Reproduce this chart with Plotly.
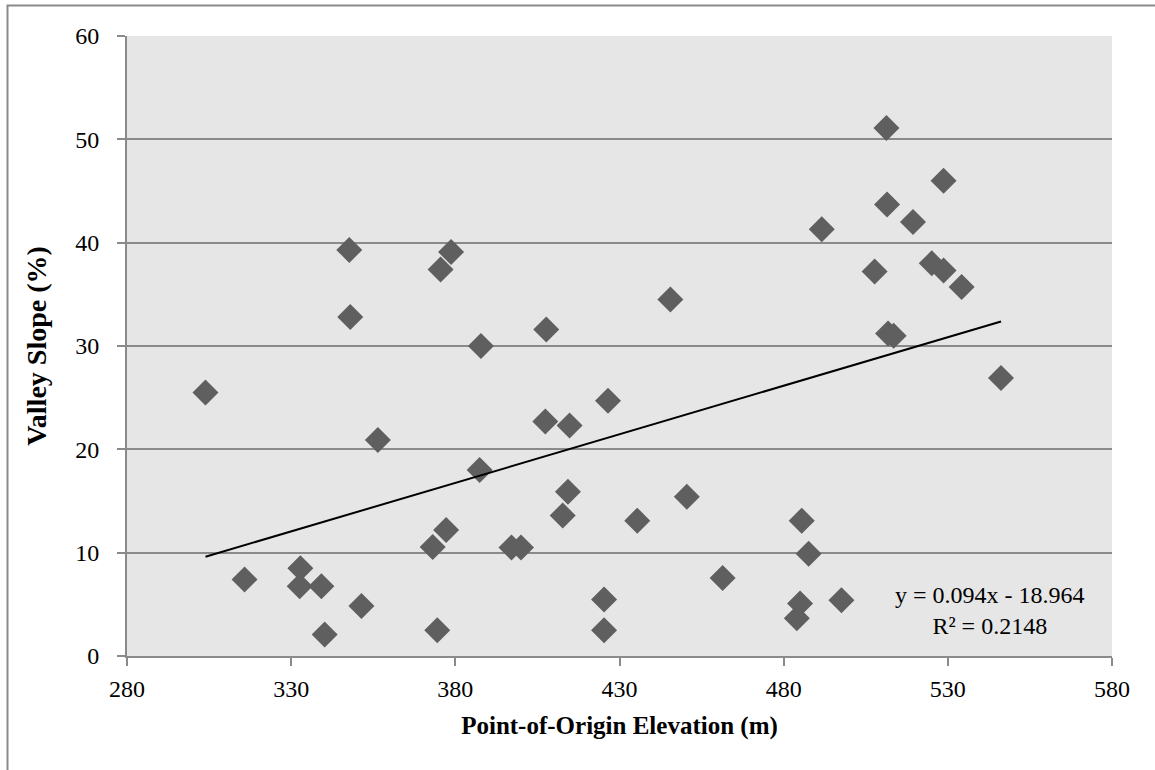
import plotly.graph_objects as go

# Point-of-origin elevation (m) and valley slope (%) for each site
elevation = [
    303.9, 315.8, 332.8, 332.6, 339.2, 340.2, 351.4, 356.4, 347.7, 348.0,
    375.5, 378.7, 387.8, 407.7, 426.5, 407.4, 414.8, 387.4, 373.1, 377.2,
    374.5, 397.1, 400.0, 414.3, 412.7, 435.4, 425.3, 425.3, 445.5, 511.3,
    528.7, 511.5, 519.4, 491.6, 507.7, 525.1, 528.7, 534.2, 511.8, 513.5,
    546.2, 450.5, 461.4, 485.5, 487.6, 485.0, 484.0, 497.6,
]
valley_slope = [
    25.5, 7.4, 8.5, 6.75, 6.75, 2.07, 4.84, 20.9, 39.3, 32.8,
    37.4, 39.1, 30.0, 31.6, 24.7, 22.7, 22.3, 18.0, 10.55, 12.2,
    2.49, 10.5, 10.5, 15.9, 13.6, 13.1, 5.46, 2.49, 34.5, 51.1,
    46.0, 43.7, 42.0, 41.3, 37.2, 38.0, 37.3, 35.7, 31.2, 31.0,
    26.9, 15.4, 7.55, 13.1, 9.9, 5.07, 3.65, 5.39,
]

# Linear trend as reported on the chart
slope = 0.094
intercept = -18.964
r_squared = 0.2148

x_ticks = [280, 330, 380, 430, 480, 530, 580]
y_ticks = [0, 10, 20, 30, 40, 50, 60]

FONT = "Liberation Serif"
GRID = "#8a8a8a"

# plot area in pixels
L, R, T, B = 127, 1112, 36, 656
W, H = 1155, 770


def px(xp):
    return (xp - L) / (R - L)


def py(yp):
    return (B - yp) / (B - T)


trend_x = [min(elevation), max(elevation)]
trend_y = [slope * v + intercept for v in trend_x]

fig = go.Figure()
fig.add_trace(go.Scatter(
    x=elevation, y=valley_slope, mode="markers",
    marker=dict(symbol="diamond", size=20, color="#5f5f5f", line=dict(width=0)),
    showlegend=False, hoverinfo="x+y",
))
fig.add_trace(go.Scatter(
    x=trend_x, y=trend_y, mode="lines",
    line=dict(color="black", width=2),
    showlegend=False, hoverinfo="skip",
))

fig.add_annotation(
    x=px(990), y=py(610), xref="paper", yref="paper",
    xanchor="center", yanchor="middle",
    text=f"y = {slope:.3f}x - {abs(intercept):.3f}<br>R² = {r_squared:.4f}",
    showarrow=False, align="center",
    font=dict(family=FONT, size=24, color="black"),
)

# outer chart frame (top and left edges)
fig.add_shape(
    type="path", xref="paper", yref="paper",
    path=f"M {px(7.5)} {py(771)} L {px(7.5)} {py(5.5)} L {px(1160)} {py(5.5)}",
    line=dict(color="#8a8a8a", width=2),
)

fig.update_layout(
    width=W, height=H,
    margin=dict(l=L, r=W - R, t=T, b=H - B),
    paper_bgcolor="white",
    plot_bgcolor="#e6e6e6",
    font=dict(family=FONT, color="black"),
    xaxis=dict(
        range=[280, 580], tickvals=x_ticks, ticktext=[str(v) for v in x_ticks],
        showgrid=False, zeroline=False,
        showline=True, linecolor=GRID, linewidth=2,
        ticks="outside", ticklen=8, tickwidth=2, tickcolor=GRID,
        tickfont=dict(family=FONT, size=24, color="black"),
        ticklabelstandoff=2,
        title=dict(text="<b>Point-of-Origin Elevation (m)</b>",
                   font=dict(family=FONT, size=25, color="black"), standoff=16),
    ),
    yaxis=dict(
        range=[0, 60], tickvals=y_ticks, ticktext=[str(v) for v in y_ticks],
        showgrid=True, gridcolor=GRID, gridwidth=1.5, zeroline=False,
        showline=True, linecolor=GRID, linewidth=2,
        ticks="outside", ticklen=8, tickwidth=2, tickcolor=GRID,
        tickfont=dict(family=FONT, size=24, color="black"),
        ticklabelstandoff=13,
        title=dict(text="<b>Valley Slope (%)</b>",
                   font=dict(family=FONT, size=28, color="black"), standoff=20),
    ),
)

fig.write_html("out.html")
